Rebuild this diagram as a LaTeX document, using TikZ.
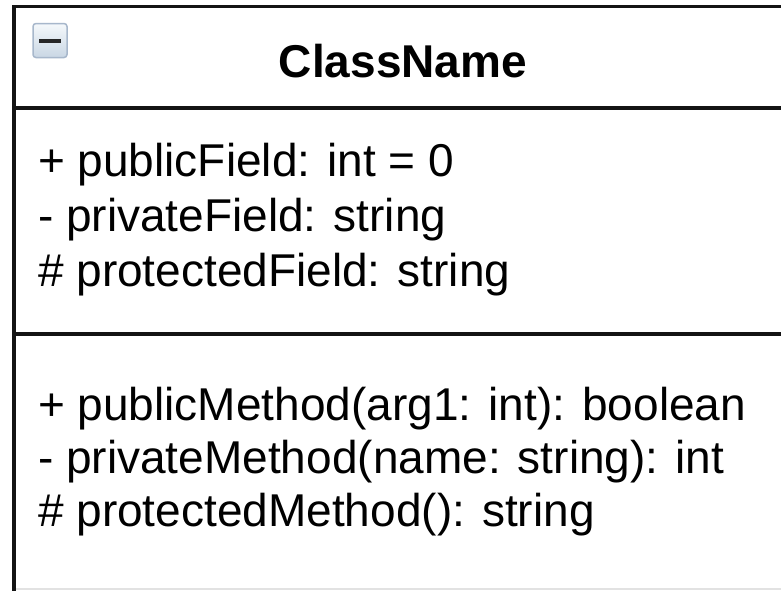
\documentclass[tikz,border=0pt]{standalone}
\usepackage{fontspec}
\setmainfont{Liberation Sans}
\definecolor{iconedge}{HTML}{A7B7CB}
\definecolor{icontop}{HTML}{F5F8FB}
\definecolor{iconbot}{HTML}{C9D6E4}
\definecolor{bottomgray}{HTML}{E2E2E2}
\begin{document}
\begin{tikzpicture}[x=1pt,y=-1pt,
  border/.style={line width=3.5pt, draw=black!92},
  member/.style={anchor=base west, inner sep=0pt, font=\fontsize{46}{55}\selectfont},
  title/.style={anchor=base, inner sep=0pt, font=\fontsize{46}{55}\selectfont\bfseries},
  iconbox/.style={draw=iconedge, line width=1.5pt, rounded corners=3pt, top color=icontop, bottom color=iconbot, minimum width=34pt, minimum height=34pt, inner sep=0pt}]
\useasboundingbox (0,0) rectangle (781,590);
\fill[white] (0,0) rectangle (781,590);
\begin{scope}
\clip (0,0) rectangle (781,590);
% outer frame (right and bottom run past the picture)
\coordinate (tl) at (14,6.5);
\coordinate (tr) at (800,6.5);
\coordinate (bl) at (14,600);
\draw[border] (tr) -- (tl) -- (bl);
\coordinate (d1l) at (14,108);
\coordinate (d1r) at (800,108);
\coordinate (d2l) at (14,334);
\coordinate (d2r) at (800,334);
\draw[border] (d1l) -- (d1r);
\draw[border] (d2l) -- (d2r);
\coordinate (bbl) at (16,588.5);
\coordinate (bbr) at (800,588.5);
\draw[bottomgray, line width=2pt] (bbl) -- (bbr);
\end{scope}
% collapse icon
\node[iconbox] (icon) at (50,40.5) {};
\draw[line width=4pt, black!85] ([xshift=-11pt]icon.center) -- ([xshift=11pt]icon.center);
% title
\node[title] (name) at (403,77) {ClassName};
% fields
\node[member] (f1) at (38,176) {+ publicField: int = 0};
\node[member] (f2) at (38,231) {- privateField: string};
\node[member] (f3) at (38,286) {\# protectedField: string};
% methods
\node[member] (m1) at (38,420) {+ publicMethod(arg1: int): boolean};
\node[member] (m2) at (38,473) {- privateMethod(name: string): int};
\node[member] (m3) at (38,526) {\# protectedMethod(): string};
\end{tikzpicture}
\end{document}
